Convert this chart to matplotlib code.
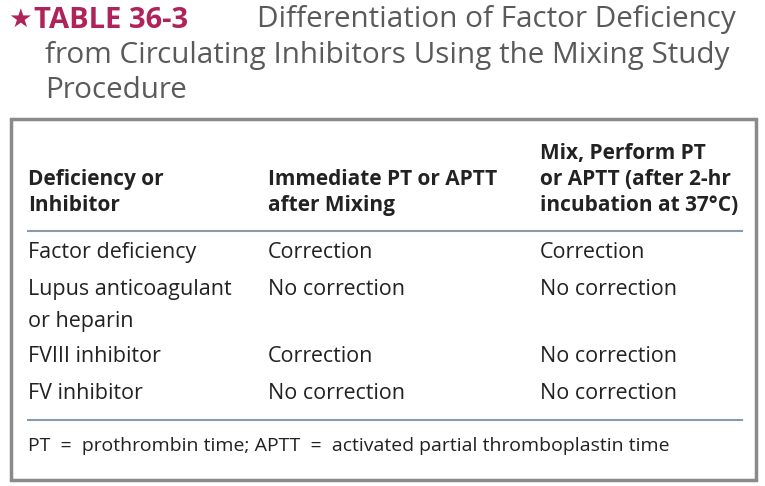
import matplotlib.pyplot as plt
from matplotlib.patches import Rectangle

title_star = "★"
title_label = "TABLE 36-3"
title_lines = ["Differentiation of Factor Deficiency",
               "from Circulating Inhibitors Using the Mixing Study",
               "Procedure"]

headers = [["Deficiency or", "Inhibitor"],
           ["Immediate PT or APTT", "after Mixing"],
           ["Mix, Perform PT", "or APTT (after 2-hr", "incubation at 37°C)"]]

rows = [["Factor deficiency", "Correction", "Correction"],
        ["Lupus anticoagulant", "No correction", "No correction"],
        ["or heparin", "", ""],
        ["FVIII inhibitor", "Correction", "No correction"],
        ["FV inhibitor", "No correction", "No correction"]]

footnote = "PT  =  prothrombin time; APTT  =  activated partial thromboplastin time"

col_x = [28, 268, 540]
row_y = [252, 289, 321, 356, 393]

fig = plt.figure(figsize=(7.65, 4.86), dpi=100)
ax = fig.add_axes([0, 0, 1, 1])
ax.set_xlim(0, 765)
ax.set_ylim(486, 0)
ax.axis("off")

font = "Open Sans"
crimson = "#b0235a"
grey = "#5a5a5a"
body = "#222222"

# title
ax.text(8, 20, title_star, color=crimson, fontsize=19, family="DejaVu Sans",
        va="center")
ax.text(34, 20, title_label, color=crimson, fontsize=21, fontweight="bold",
        family=font, va="center")
ax.text(257, 20, title_lines[0], color=grey, fontsize=21.3, family=font, va="center")
ax.text(45, 55, title_lines[1], color=grey, fontsize=21.3, family=font, va="center")
ax.text(45, 90, title_lines[2], color=grey, fontsize=21.3, family=font, va="center")

# box
ax.add_patch(Rectangle((11, 119), 745, 361, fill=False, edgecolor="#8a8a8a", lw=2.5))

# header
for x, lines in zip(col_x, headers):
    n = len(lines)
    for i, line in enumerate(lines):
        y = 205 - (n - 1 - i) * 26
        ax.text(x, y, line, fontsize=15, fontweight="bold", family=font,
                color=body, va="center")

ax.plot([28, 742], [231, 231], color="#8a9aa8", lw=1.5)

for y, row in zip(row_y, rows):
    for x, cell in zip(col_x, row):
        ax.text(x, y, cell, fontsize=15.5, family=font, color=body, va="center")

ax.plot([28, 742], [420, 420], color="#8a9aa8", lw=1.5)
ax.text(28, 446, footnote, fontsize=14, family=font, color=body, va="center")

fig.savefig("out.png", dpi=100)
